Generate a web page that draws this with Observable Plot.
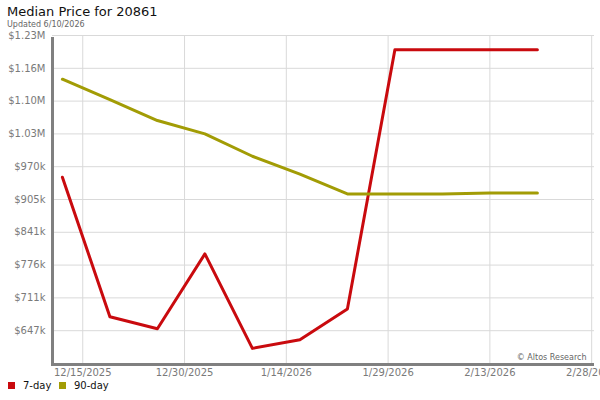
<!DOCTYPE html>
<html>
<head>
<meta charset="utf-8">
<script src="https://cdn.jsdelivr.net/npm/d3@7"></script>
<script src="https://cdn.jsdelivr.net/npm/@observablehq/plot@0.6"></script>
<style>
  html, body { margin: 0; padding: 0; background: #fff; }
  body { width: 600px; height: 400px; position: relative; overflow: hidden; font-family: "DejaVu Sans", sans-serif; }
  #title { position: absolute; left: 7px; top: 4px; font-size: 13px; color: #111; line-height: 16px; }
  #sub { position: absolute; left: 7px; top: 20px; font-size: 8px; color: #666; line-height: 10px; }
  #chart { position: absolute; left: 0; top: 30px; }
  #legend { position: absolute; left: 0; top: 380px; font-size: 10px; color: #111; line-height: 12px; }
  .item { position: absolute; top: 0; white-space: nowrap; }
  .sw { display: inline-block; width: 7px; height: 7px; margin-right: 8px; vertical-align: 0px; }
</style>
</head>
<body>
<div id="title">Median Price for 20861</div>
<div id="sub">Updated 6/10/2026</div>
<div id="chart"></div>
<div id="legend"></div>
<script>
// ---- data (values in thousands of dollars) ----
const dates = ["2025-12-12","2025-12-19","2025-12-26","2026-01-02","2026-01-09","2026-01-16","2026-01-23","2026-01-30","2026-02-06","2026-02-13","2026-02-20"];
const sevenDay = [949.6, 674.4, 650.7, 798.3, 611.8, 629.0, 689.6, 1201.3, 1201.3, 1201.3, 1201.3];
const ninetyDay = [1143.2, 1103.1, 1061.6, 1035.3, 991.1, 955.9, 916.8, 916.8, 916.8, 918.8, 918.8];
const seriesNames = ["7-day", "90-day"];
const seriesColors = ["#c90a0e", "#a29c05"];
const yTicks = [646.75, 711.5, 776.25, 841, 905.75, 970.5, 1035.25, 1100, 1164.75, 1229.5];
const yTickLabels = ["$647k","$711k","$776k","$841k","$905k","$970k","$1.03M","$1.10M","$1.16M","$1.23M"];
const xTicks = ["2025-12-15","2025-12-30","2026-01-14","2026-01-29","2026-02-13","2026-02-28"];
const xTickLabels = ["12/15/2025","12/30/2025","1/14/2026","1/29/2026","2/13/2026","2/28/2026"];
const credit = "© Altos Research";

const parse = s => new Date(s + "T00:00:00Z");
const rows = [];
dates.forEach((d, i) => {
  rows.push({date: parse(d), value: sevenDay[i], series: seriesNames[0]});
  rows.push({date: parse(d), value: ninetyDay[i], series: seriesNames[1]});
});
const xTickDates = xTicks.map(parse);
const xDomain = [new Date(Date.UTC(2025, 11, 10, 13)), new Date(Date.UTC(2026, 1, 28, 10))];
const yDomain = [580, 1229.5];

const plot = Plot.plot({
  width: 600,
  height: 352,
  marginTop: 5,
  marginBottom: 18,
  marginLeft: 52,
  marginRight: 6,
  style: {fontFamily: "DejaVu Sans, sans-serif", fontSize: "10px", background: "#fff"},
  x: {type: "utc", domain: xDomain, ticks: xTickDates, tickFormat: d => xTickLabels[xTickDates.findIndex(t => +t === +d)], tickSize: 0, tickPadding: 4, label: null},
  y: {domain: yDomain, ticks: yTicks, tickFormat: v => yTickLabels[yTicks.indexOf(v)], tickSize: 0, tickPadding: 7, label: null},
  color: {domain: seriesNames, range: seriesColors},
  marks: [
    Plot.gridY(yTicks, {stroke: "#d9d9d9", strokeOpacity: 1, strokeWidth: 1}),
    Plot.gridX(xTickDates, {stroke: "#d9d9d9", strokeOpacity: 1, strokeWidth: 1}),
    Plot.axisY({ticks: yTicks, tickFormat: v => yTickLabels[yTicks.indexOf(v)], tickSize: 0, tickPadding: 7, fill: "#7a7a7a", fontSize: 10, label: null}),
    Plot.axisX({ticks: xTickDates, tickFormat: d => xTickLabels[xTickDates.findIndex(t => +t === +d)], tickSize: 0, tickPadding: 4, fill: "#7a7a7a", fontSize: 10, label: null}),
    Plot.text([credit], {frameAnchor: "bottom-right", dx: -8, dy: -5, fontSize: 8, fill: "#666", text: d => d}),
    Plot.line(rows, {x: "date", y: "value", stroke: "series", z: "series", strokeWidth: 3, curve: "linear"}),
    Plot.ruleX([xDomain[0]], {stroke: "#808080", strokeWidth: 3, y1: yDomain[0], y2: yDomain[1], insetBottom: -2}),
    Plot.ruleY([yDomain[0]], {stroke: "#808080", strokeWidth: 3, x1: xDomain[0], x2: xDomain[1], insetLeft: -1})
  ]
});
document.getElementById("chart").appendChild(plot);

// legend
const legend = document.getElementById("legend");
const lx = [8, 59];
seriesNames.forEach((name, i) => {
  const it = document.createElement("div");
  it.className = "item";
  it.style.left = lx[i] + "px";
  it.innerHTML = `<span class="sw" style="background:${seriesColors[i]}"></span>${name}`;
  legend.appendChild(it);
});
</script>
</body>
</html>
